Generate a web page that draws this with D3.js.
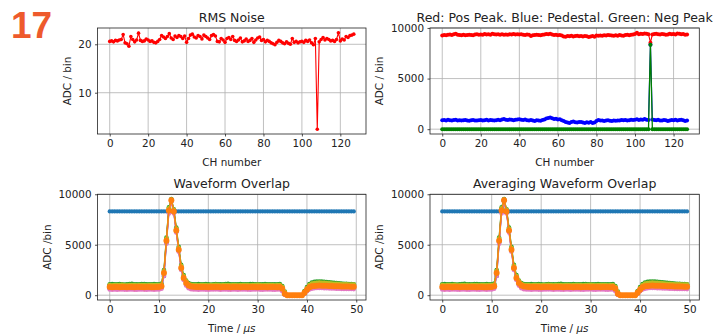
<!DOCTYPE html>
<html>
<head>
<meta charset="utf-8">
<script src="https://cdn.jsdelivr.net/npm/d3@7"></script>
<style>
  body { margin: 0; background: #fff; }
  svg { display: block; font-family: "DejaVu Sans", sans-serif; }
</style>
</head>
<body>
<div id="chart"></div>
<script>
// ---- data ----
const channels = d3.range(128);

const rmsNoise = [
  20.6, 20.7, 20.5, 20.8, 20.7, 20.9, 21.0, 22.0, 20.3, 20.1,
  19.6, 21.6, 21.0, 20.5, 20.9, 22.3, 20.8, 20.6, 20.7, 21.1,
  20.9, 20.6, 20.7, 20.4, 20.3, 20.6, 21.0, 21.8, 21.5, 21.2,
  21.6, 22.2, 21.3, 21.0, 21.7, 21.4, 21.8, 21.6, 21.2, 21.7,
  20.4, 21.2, 21.9, 22.1, 21.5, 21.3, 21.8, 21.6, 21.1, 21.9,
  21.6, 21.3, 21.0, 21.8, 22.0, 21.7, 20.6, 20.5, 21.2, 20.9,
  20.4, 21.2, 21.4, 21.0, 21.6, 20.8, 20.6, 20.9, 21.3, 20.5,
  20.7, 21.1, 20.6, 20.8, 21.2, 20.4, 20.9, 21.3, 21.5, 20.8,
  21.0, 20.5, 20.8, 20.6, 20.3, 20.1, 19.9, 20.4, 20.8, 20.6,
  20.3, 20.1, 20.5, 20.2, 20.0, 21.2, 20.4, 20.6, 20.3, 20.5,
  20.6, 20.4, 20.8, 20.6, 20.9, 20.3, 19.9, 21.2, 2.47, 20.5,
  21.0, 21.4, 20.9, 21.2, 21.0, 20.7, 20.8, 20.6, 21.0, 22.37,
  20.7, 21.1, 20.9, 21.6, 21.4, 21.8, 21.9, 22.1
];

const posPeak = [
  9250, 9300, 9280, 9320, 9350, 9300, 9380, 9420, 9330, 9300,
  9290, 9320, 9280, 9300, 9340, 9310, 9290, 9350, 9380, 9330,
  9360, 9320, 9400, 9350, 9380, 9330, 9420, 9390, 9350, 9370,
  9340, 9380, 9330, 9360, 9320, 9380, 9350, 9400, 9360, 9390,
  9350, 9380, 9330, 9300, 9350, 9320, 9200, 9280, 9300, 9330,
  9300, 9280, 9320, 9350, 9400, 9380, 9420, 9350, 9300, 9330,
  9280, 9300, 9250, 9150, 9120, 9200, 9180, 9220, 9160, 9200,
  9230, 9180, 9210, 9150, 9200, 9170, 9100, 9150, 9200, 9120,
  9250, 9220, 9260, 9230, 9280, 9250, 9300, 9270, 9250, 9230,
  9280, 9240, 9300, 9260, 9230, 9300, 9330, 9280, 9320, 9350,
  9400, 9520, 9380, 9420, 9400, 9450, 9420, 9380, 8550, 9350,
  9400, 9420, 9380, 9350, 9400, 9380, 9330, 9360, 9420, 9380,
  9400, 9350, 9450, 9420, 9380, 9400, 9320, 9350
];

const pedestal = [
  880, 900, 860, 920, 880, 850, 900, 930, 870, 890,
  850, 880, 900, 870, 840, 880, 910, 870, 850, 890,
  900, 860, 880, 920, 870, 900, 880, 850, 890, 920,
  880, 950, 1000, 930, 900, 960, 920, 880, 940, 960,
  980, 930, 900, 950, 880, 860, 900, 850, 820, 880,
  860, 830, 900, 950, 1050, 1100, 1150, 1080, 1000, 1020,
  950, 980, 880, 800, 700, 650, 620, 700, 750, 680,
  650, 700, 720, 650, 600, 680, 640, 700, 620, 660,
  820, 900, 850, 870, 820, 850, 880, 840, 800, 860,
  830, 870, 850, 900, 880, 910, 860, 890, 920, 900,
  940, 980, 900, 960, 920, 1000, 940, 900, 8350, 950,
  900, 880, 920, 870, 850, 900, 880, 820, 850, 900,
  880, 920, 850, 900, 940, 880, 820, 850
];

const negPeak = [
  0, 0, 0, 0, 0, 0, 0, 0, 0, 0,  0, 0, 0, 0, 0, 0, 0, 0, 0, 0,
  0, 0, 0, 0, 0, 0, 0, 0, 0, 0,  0, 0, 0, 0, 0, 0, 0, 0, 0, 0,
  0, 0, 0, 0, 0, 0, 0, 0, 0, 0,  0, 0, 0, 0, 0, 0, 0, 0, 0, 0,
  0, 0, 0, 0, 0, 0, 0, 0, 0, 0,  0, 0, 0, 0, 0, 0, 0, 0, 0, 0,
  0, 0, 0, 0, 0, 0, 0, 0, 0, 0,  0, 0, 0, 0, 0, 0, 0, 0, 0, 0,
  0, 0, 0, 0, 0, 0, 0, 0, 8350, 0, 0, 0, 0, 0, 0, 0, 0, 0, 0, 0,
  0, 0, 0, 0, 0, 0, 0, 0
];

// waveform samples every 0.5 us
const timeUs = d3.range(100).map(i => i * 0.5);

const waveStuck = [
  8300, 8300, 8300, 8300, 8300, 8300, 8300, 8300, 8300, 8300,
  8300, 8300, 8300, 8300, 8300, 8300, 8300, 8300, 8300, 8300,
  8300, 8300, 8300, 8300, 8300, 8300, 8300, 8300, 8300, 8300,
  8300, 8300, 8300, 8300, 8300, 8300, 8300, 8300, 8300, 8300,
  8300, 8300, 8300, 8300, 8300, 8300, 8300, 8300, 8300, 8300,
  8300, 8300, 8300, 8300, 8300, 8300, 8300, 8300, 8300, 8300,
  8300, 8300, 8300, 8300, 8300, 8300, 8300, 8300, 8300, 8300,
  8300, 8300, 8300, 8300, 8300, 8300, 8300, 8300, 8300, 8300,
  8300, 8300, 8300, 8300, 8300, 8300, 8300, 8300, 8300, 8300,
  8300, 8300, 8300, 8300, 8300, 8300, 8300, 8300, 8300, 8300
];

const waveBlue = [
  680, 670, 690, 665, 680, 695, 675, 665, 685, 690, 670, 665, 680, 695, 675, 665, 685, 690, 670, 680, 690,
  740, 1900, 5200, 8300, 9300, 8250, 6350, 4450, 2650, 1650, 1050, 800, 710,
  690, 680, 670, 695, 685, 675, 660, 680, 690, 700, 685, 670, 680, 695, 675, 665, 685, 690, 670, 680,
  695, 685, 675, 665, 680, 690, 700, 675, 670, 685, 680, 690, 675, 665, 680, 690,
  500, 80, 0, 0, 0, 0, 0, 0, 0, 180, 450, 650,
  760, 800, 820, 830, 820, 810, 800, 790, 780, 770, 760, 750, 745, 740, 735, 730, 725, 720
];

const waveGreen = [
  1080, 1100, 1070, 1090, 1110, 1080, 1060, 1090, 1100, 1120, 1080, 1070, 1090, 1110, 1100, 1080, 1070, 1090, 1100, 1080, 1090,
  1150, 2500, 5700, 8700, 9520, 8500, 6700, 4800, 3000, 2000, 1450, 1200, 1100,
  1090, 1080, 1100, 1070, 1090, 1110, 1080, 1060, 1090, 1100, 1080, 1070, 1090, 1100, 1120, 1080, 1070, 1090,
  1080, 1100, 1090, 1070, 1080, 1100, 1110, 1090, 1080, 1070, 1090, 1100, 1080, 1090, 1070, 1080, 1090, 1100,
  900, 350, 0, 0, 0, 0, 0, 0, 0, 400, 800, 1100,
  1250, 1320, 1350, 1360, 1340, 1320, 1300, 1280, 1250, 1230, 1200, 1180, 1160, 1140, 1120, 1110, 1100, 1090
];

const waveRed = [
  920, 900, 930, 910, 940, 920, 900, 915, 925, 935, 910, 900, 920, 930, 915, 905, 925, 940, 910, 920, 930,
  980, 2300, 5500, 8500, 9450, 8400, 6500, 4600, 2800, 1800, 1300, 1050, 960,
  930, 920, 910, 935, 925, 915, 900, 920, 930, 940, 925, 910, 920, 935, 915, 905, 925, 930,
  910, 920, 935, 925, 915, 905, 920, 930, 940, 915, 910, 925, 920, 930, 915, 905, 920, 930,
  750, 250, 0, 0, 0, 0, 0, 0, 0, 300, 650, 900,
  1050, 1100, 1120, 1130, 1120, 1100, 1080, 1060, 1040, 1020, 1000, 990, 980, 970, 960, 950, 945, 940
];

const wavePurple = [
  720, 710, 730, 700, 720, 740, 715, 705, 725, 730, 710, 700, 720, 735, 715, 705, 725, 730, 710, 720, 730,
  790, 2100, 5300, 8300, 9350, 8200, 6300, 4400, 2600, 1600, 1100, 850, 760,
  730, 720, 710, 735, 725, 715, 700, 720, 730, 740, 725, 710, 720, 735, 715, 705, 725, 730,
  710, 720, 735, 725, 715, 705, 720, 730, 740, 715, 710, 725, 720, 730, 715, 705, 720, 730,
  550, 100, 0, 0, 0, 0, 0, 0, 0, 200, 480, 700,
  800, 850, 870, 880, 870, 860, 850, 840, 830, 820, 810, 800, 790, 785, 780, 775, 770, 765
];

const wavePink = [
  560, 550, 570, 545, 560, 575, 555, 545, 565, 570, 550, 545, 560, 575, 555, 545, 565, 570, 550, 560, 570,
  640, 1900, 5100, 8100, 9250, 8100, 6200, 4300, 2500, 1500, 950, 700, 600,
  570, 560, 550, 575, 565, 555, 540, 560, 570, 580, 565, 550, 560, 575, 555, 545, 565, 570,
  550, 560, 575, 565, 555, 545, 560, 570, 580, 555, 550, 565, 560, 570, 555, 545, 560, 570,
  400, 50, 0, 0, 0, 0, 0, 0, 0, 150, 400, 560,
  650, 690, 710, 720, 710, 700, 690, 680, 670, 660, 650, 640, 630, 625, 620, 615, 610, 605
];

const waveOlive = [
  1000, 990, 1010, 995, 1005, 1020, 990, 985, 1000, 1010, 995, 985, 1000, 1015, 995, 990, 1005, 1010, 995, 1000, 1010,
  1060, 2400, 5600, 8600, 9480, 8450, 6600, 4700, 2900, 1900, 1400, 1120, 1030,
  1010, 1000, 990, 1015, 1005, 995, 985, 1000, 1010, 1020, 1005, 990, 1000, 1015, 995, 985, 1005, 1010,
  990, 1000, 1015, 1005, 995, 985, 1000, 1010, 1020, 995, 990, 1005, 1000, 1010, 995, 985, 1000, 1010,
  820, 300, 0, 0, 0, 0, 0, 0, 0, 350, 720, 1000,
  1150, 1210, 1240, 1250, 1240, 1220, 1200, 1180, 1160, 1140, 1120, 1100, 1090, 1080, 1070, 1060, 1055, 1050
];

const waveOrange = [
  810, 790, 805, 800, 785, 800, 815, 795, 800, 810, 790, 805, 815, 800, 790, 800, 810, 795, 790, 805, 815,
  880, 2200, 5400, 8400, 9400, 8300, 6400, 4500, 2700, 1700, 1200, 950, 860,
  830, 820, 810, 800, 815, 805, 790, 800, 810, 820, 805, 795, 800, 810, 800, 790, 805, 815,
  800, 795, 810, 800, 790, 805, 810, 800, 795, 805, 815, 800, 790, 800, 810, 805, 795, 800,
  650, 150, 0, 0, 0, 0, 0, 0, 0, 250, 550, 780,
  880, 920, 940, 950, 945, 935, 925, 915, 905, 895, 885, 875, 870, 860, 855, 850, 845, 840
];

const chTicks = [0, 20, 40, 60, 80, 100, 120];
const rmsTicks = [10, 20];
const adcTicks = [0, 5000, 10000];
const timeTicks = [0, 10, 20, 30, 40, 50];

// same series in both waveform panels, drawn in this order (last on top)
const waveSeries = [
  { values: waveStuck, color: '#1f77b4', r: 2.1 },
  { values: waveBlue, color: '#1f77b4', r: 2.3 },
  { values: waveGreen, color: '#2ca02c', r: 2.3 },
  { values: waveRed, color: '#d62728', r: 2.3 },
  { values: wavePurple, color: '#9467bd', r: 2.3 },
  { values: wavePink, color: '#e377c2', r: 2.3 },
  { values: waveOlive, color: '#bcbd22', r: 2.3 },
  { values: waveOrange, color: '#ff7f0e', r: 3 }
];

[waveStuck, waveBlue, waveGreen, waveRed, wavePurple, wavePink, waveOlive, waveOrange].forEach((w, i) => {
  if (w.length !== 100) throw new Error('waveform ' + i + ' has ' + w.length + ' samples');
});
[rmsNoise, posPeak, pedestal, negPeak].forEach((w, i) => {
  if (w.length !== 128) throw new Error('channel series ' + i + ' has ' + w.length + ' values');
});

// ---- drawing ----
const width = 720, height = 334;
const svg = d3.select('#chart').append('svg')
  .attr('width', width)
  .attr('height', height);

svg.append('text')
  .attr('x', 11)
  .attr('y', 38.3)
  .attr('font-family', '"Liberation Sans", Arial, sans-serif')
  .attr('font-weight', 'bold')
  .attr('font-size', 37)
  .attr('fill', '#ee5a2c')
  .text('17');

// matplotlib-like autoscale: 5% margin around data
function padded(lo, hi) {
  const m = (hi - lo) * 0.05;
  return [lo - m, hi + m];
}

function panel(box, xDomain, yDomain, xTicks, yTicks, title, xLabel, yLabel, yLabelX) {
  const x = d3.scaleLinear().domain(xDomain).range([box.x0, box.x1]);
  const y = d3.scaleLinear().domain(yDomain).range([box.y1, box.y0]);
  const g = svg.append('g');

  // grid
  g.append('g').selectAll('line.gx').data(xTicks).join('line')
    .attr('x1', d => x(d)).attr('x2', d => x(d))
    .attr('y1', box.y0).attr('y2', box.y1)
    .attr('stroke', '#b0b0b0').attr('stroke-width', 0.8);
  g.append('g').selectAll('line.gy').data(yTicks).join('line')
    .attr('y1', d => y(d)).attr('y2', d => y(d))
    .attr('x1', box.x0).attr('x2', box.x1)
    .attr('stroke', '#b0b0b0').attr('stroke-width', 0.8);

  // axes
  const xAxis = d3.axisBottom(x).tickValues(xTicks).tickSize(2.5).tickPadding(3.5).tickFormat(d3.format('d'));
  const yAxis = d3.axisLeft(y).tickValues(yTicks).tickSize(2.5).tickPadding(3.5).tickFormat(d3.format('d'));
  const ax = g.append('g').attr('transform', `translate(0,${box.y1})`).call(xAxis);
  const ay = g.append('g').attr('transform', `translate(${box.x0},0)`).call(yAxis);
  [ax, ay].forEach(a => {
    a.select('.domain').remove();
    a.selectAll('line').attr('stroke', '#222').attr('stroke-width', 0.8);
    a.selectAll('text').attr('font-family', '"DejaVu Sans", sans-serif')
      .attr('font-size', 10.4).attr('fill', '#222');
  });

  const plot = g.append('g');

  // title
  g.append('text')
    .attr('x', (box.x0 + box.x1) / 2).attr('y', box.y0 - 6.5)
    .attr('text-anchor', 'middle').attr('font-size', 12.5).attr('fill', '#222')
    .text(title);

  // x label
  const xl = g.append('text')
    .attr('x', (box.x0 + box.x1) / 2).attr('y', box.y1 + 31.5)
    .attr('text-anchor', 'middle').attr('font-size', 10.4).attr('fill', '#222');
  if (Array.isArray(xLabel)) {
    xl.append('tspan').text(xLabel[0]);
    xl.append('tspan').attr('font-style', 'italic').text(xLabel[1]);
  } else {
    xl.text(xLabel);
  }

  // y label
  g.append('text')
    .attr('transform', `translate(${yLabelX},${(box.y0 + box.y1) / 2}) rotate(-90)`)
    .attr('text-anchor', 'middle').attr('font-size', 10.4).attr('fill', '#222')
    .text(yLabel);

  return { x, y, plot, frame: () => g.append('rect')
    .attr('x', box.x0).attr('y', box.y0)
    .attr('width', box.x1 - box.x0).attr('height', box.y1 - box.y0)
    .attr('fill', 'none').attr('stroke', '#222').attr('stroke-width', 0.8) };
}

function drawSeries(p, xs, ys, color, r, lw) {
  const line = d3.line().x((d, i) => p.x(xs[i])).y(d => p.y(d));
  p.plot.append('path').datum(ys)
    .attr('d', line)
    .attr('fill', 'none').attr('stroke', color).attr('stroke-width', lw);
  p.plot.append('g').selectAll('circle').data(ys).join('circle')
    .attr('cx', (d, i) => p.x(xs[i])).attr('cy', d => p.y(d))
    .attr('r', r).attr('fill', color);
}

const leftX = [97.5, 366], rightX = [430, 699.3];
const topY = [28, 134], botY = [194.3, 300];

// RMS noise
const p1 = panel({ x0: leftX[0], x1: leftX[1], y0: topY[0], y1: topY[1] },
  padded(0, 127), padded(d3.min(rmsNoise), d3.max(rmsNoise)),
  chTicks, rmsTicks, 'RMS Noise', 'CH number', 'ADC / bin', 70.5);
drawSeries(p1, channels, rmsNoise, '#ff0000', 1.8, 1.1);
p1.frame();

// peaks and pedestal
const allPk = posPeak.concat(pedestal, negPeak);
const p2 = panel({ x0: rightX[0], x1: rightX[1], y0: topY[0], y1: topY[1] },
  padded(0, 127), padded(d3.min(allPk), d3.max(allPk)),
  chTicks, adcTicks, 'Red: Pos Peak. Blue: Pedestal. Green: Neg Peak', 'CH number', 'ADC / bin', 383);
drawSeries(p2, channels, posPeak, '#ff0000', 2, 1.1);
drawSeries(p2, channels, pedestal, '#0000ff', 2, 1.1);
drawSeries(p2, channels, negPeak, '#008000', 2, 1.3);
p2.frame();

// waveform panels
const allWave = d3.merge(waveSeries.map(s => s.values));
const waveY = padded(d3.min(allWave), d3.max(allWave));
const timeX = padded(0, d3.max(timeUs));

const p3 = panel({ x0: leftX[0], x1: leftX[1], y0: botY[0], y1: botY[1] },
  timeX, waveY, timeTicks, adcTicks, 'Waveform Overlap', ['Time / ', 'μs'], 'ADC /bin', 50.5);
waveSeries.forEach(s => drawSeries(p3, timeUs, s.values, s.color, s.r, 1.3));
p3.frame();

const p4 = panel({ x0: rightX[0], x1: rightX[1], y0: botY[0], y1: botY[1] },
  timeX, waveY, timeTicks, adcTicks, 'Averaging Waveform Overlap', ['Time / ', 'μs'], 'ADC /bin', 382.5);
waveSeries.forEach(s => drawSeries(p4, timeUs, s.values, s.color, s.r, 1.3));
p4.frame();
</script>
</body>
</html>
